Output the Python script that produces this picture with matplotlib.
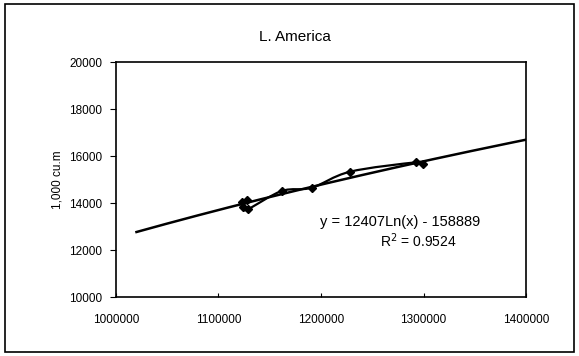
import numpy as np
import matplotlib
matplotlib.use("Agg")
import matplotlib.pyplot as plt
from matplotlib.path import Path
from matplotlib.patches import PathPatch, Rectangle
from matplotlib.ticker import FormatStrFormatter

plt.rcParams['font.family'] = ['Liberation Sans', 'DejaVu Sans']

# data
pop = [1127500, 1122600, 1124200, 1128500, 1161700, 1190900, 1228300, 1292700, 1299200]
volume = [14128, 14055, 13817, 13732, 14511, 14651, 15332, 15732, 15660]
coef_a = 12407
coef_b = -158889
r2 = 0.9524
trend_range = [1020000, 1400000]

x = np.array(pop, dtype=float)
y = np.array(volume, dtype=float)

fig = plt.figure(figsize=(5.79, 3.56), dpi=100)
ax = fig.add_axes([0.2003, 0.1657, 0.7082, 0.6601])

# smoothed line through the points (excel style bezier)
verts = [(x[0], y[0])]
codes = [Path.MOVETO]
n = len(x)
for i in range(n - 1):
    p0 = np.array([x[max(i - 1, 0)], y[max(i - 1, 0)]])
    p1 = np.array([x[i], y[i]])
    p2 = np.array([x[i + 1], y[i + 1]])
    p3 = np.array([x[min(i + 2, n - 1)], y[min(i + 2, n - 1)]])
    c1 = p1 + (p2 - p0) / 6
    c2 = p2 - (p3 - p1) / 6
    verts += [tuple(c1), tuple(c2), tuple(p2)]
    codes += [Path.CURVE4] * 3
ax.add_patch(PathPatch(Path(verts, codes), fill=False, lw=1.6, color='black'))
ax.plot(x, y, ls='none', marker='D', ms=4.5, color='black')

# log trend line
tx = np.linspace(trend_range[0], trend_range[1], 200)
ax.plot(tx, coef_a * np.log(tx) + coef_b, color='black', lw=1.8)

ax.text(1277000, 13200, f'y = {coef_a}Ln(x) - {-coef_b}', fontsize=10.5, ha='center', va='center')
ax.text(1294600, 12400, f'R$^2$ = {r2}', fontsize=10, ha='center', va='center')

ax.set_xlim(1000000, 1400000)
ax.set_ylim(10000, 20000)
ax.set_xticks([1000000, 1100000, 1200000, 1300000, 1400000])
ax.set_yticks([10000, 12000, 14000, 16000, 18000, 20000])
ax.xaxis.set_major_formatter(FormatStrFormatter('%d'))
ax.tick_params(axis='y', direction='out', length=4, labelsize=8.5, width=0.8, pad=6)
ax.tick_params(axis='x', direction='in', length=3, labelsize=8.5, width=0.8, pad=12)
for s in ax.spines.values():
    s.set_linewidth(1.2)
ax.set_ylabel('1,000 cu.m', fontsize=8.5, labelpad=4)
fig.text(295 / 579, 1 - 37 / 356, 'L. America', fontsize=11, ha='center', va='center')

fig.patches.append(Rectangle((0.008, 0.012), 0.984, 0.976, transform=fig.transFigure,
                             fill=False, lw=1.2, edgecolor='black'))

fig.savefig('out.png', dpi=100)
